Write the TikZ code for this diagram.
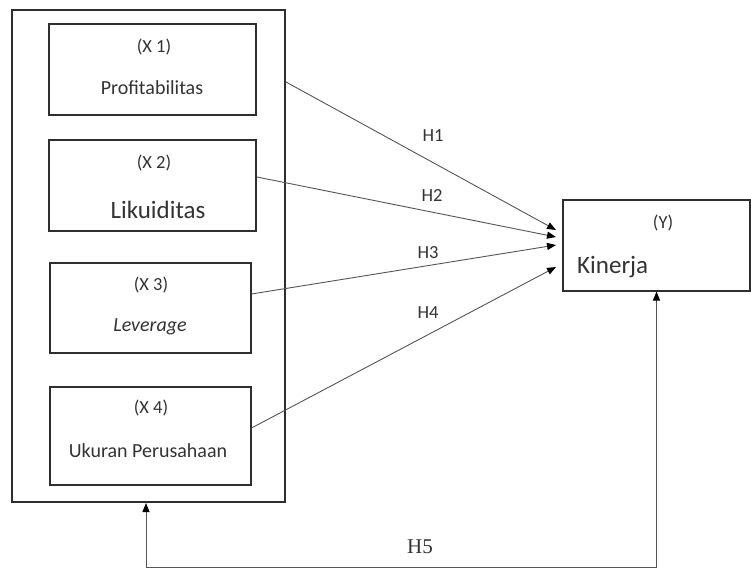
\documentclass[tikz,border=0pt]{standalone}
\usepackage{fontspec}
\setmainfont{Carlito}
\newfontfamily\hserif{Liberation Serif}
\usetikzlibrary{arrows.meta}
\definecolor{boxline}{HTML}{2E2E2E}
\definecolor{arrline}{HTML}{555555}
\definecolor{txt}{HTML}{333333}
\begin{document}
\begin{tikzpicture}[x=1pt,y=-1pt,
  box/.style={draw=boxline,line width=2pt,rectangle,inner sep=0pt},
  small/.style={text=txt,font=\fontsize{18.5}{20}\selectfont,inner sep=0pt},
  mid/.style={text=txt,font=\fontsize{20}{22}\selectfont,inner sep=0pt},
  big/.style={text=txt,font=\fontsize{25}{27}\selectfont,inner sep=0pt},
  hlab/.style={text=txt,font=\fontsize{18.5}{20}\selectfont,inner sep=0pt},
  conn/.style={draw=arrline,line width=0.9pt,-{Triangle[length=9pt,width=7pt,color=black]}}]
\useasboundingbox (0,0) rectangle (751,571);
\fill[white] (0,0) rectangle (751,571);
% boxes
\node[box,minimum width=273pt,minimum height=492pt] (outer) at (148.5,256) {};
\node[box,minimum width=207pt,minimum height=91pt] (X1) at (152.5,69.5) {};
\node[box,minimum width=207pt,minimum height=91pt] (X2) at (152.5,185.5) {};
\node[box,minimum width=201pt,minimum height=90pt] (X3) at (150,308) {};
\node[box,minimum width=201pt,minimum height=98pt] (X4) at (150,435.5) {};
\node[box,minimum width=187pt,minimum height=91pt] (Y) at (656.5,245) {};
% texts
\node[small] (t1a) at (154,47) {(X 1)};
\node[mid] (t1b) at (152,88) {Profitabilitas};
\node[small] (t2a) at (154,163) {(X 2)};
\node[big] (t2b) at (158,210) {Likuiditas};
\node[small] (t3a) at (151,285) {(X 3)};
\node[mid] (t3b) at (150,327) {\itshape Leverage};
\node[small] (t4a) at (151,408) {(X 4)};
\node[mid] (t4b) at (148,451) {Ukuran Perusahaan};
\node[small] (ya) at (663,223) {(Y)};
\node[big,anchor=west] (yb) at (577,267) {Kinerja};
% arrows
\draw[conn] ([yshift=174pt]outer.east) -- ([xshift=-6pt,yshift=15pt]Y.west);
\draw[conn] ([yshift=8.5pt]X2.east) -- ([xshift=-6pt,yshift=8pt]Y.west);
\draw[conn] ([yshift=14pt]X3.east) -- ([xshift=-6pt,yshift=0pt]Y.west);
\draw[conn] ([yshift=7.5pt]X4.east) -- ([xshift=-6pt,yshift=-22pt]Y.west);
\node[hlab] (h1) at (433,136) {H1};
\node[hlab] (h2) at (432,195) {H2};
\node[hlab] (h3) at (428,253) {H3};
\node[hlab] (h4) at (428,313) {H4};
% H5 loop
\coordinate (b1) at (Y.south |- 0,567);
\coordinate (b2) at (146,567);
\draw[draw=arrline,line width=0.9pt,{Triangle[length=9pt,width=7pt,color=black]}-{Triangle[length=9pt,width=7pt,color=black]}]
  (Y.south) -- (b1) -- (b2) -- (b2 |- outer.south);
\node[text=txt,font=\hserif\fontsize{21}{23}\selectfont,inner sep=0pt] (h5) at (420,547) {H5};
\end{tikzpicture}
\end{document}
